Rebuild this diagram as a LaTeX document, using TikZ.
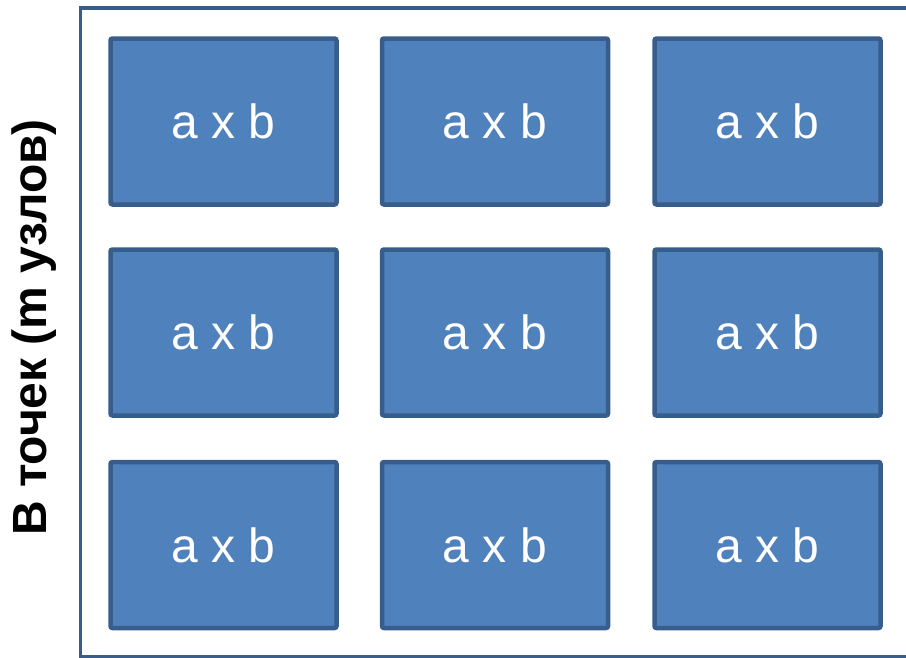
\documentclass[tikz,border=0pt]{standalone}
\usepackage{fontspec}
\setmainfont{Liberation Sans}
\definecolor{boxfill}{HTML}{4F81BD}
\definecolor{boxline}{HTML}{385D8A}
\begin{document}
\begin{tikzpicture}[x=1pt,y=-1pt,
  cell/.style={draw=boxline, fill=boxfill, line width=4.5pt, rounded corners=2pt,
    minimum width=226pt, minimum height=166pt, inner sep=0pt,
    text=white, font=\fontsize{48}{58}\selectfont},
  frame/.style={draw=boxline, line width=3.5pt},
  sidelabel/.style={rotate=90, anchor=base, inner sep=0pt, font=\fontsize{48}{58}\selectfont\bfseries}]
\useasboundingbox (0,0) rectangle (906,657);
\draw[frame] (80.5,8) rectangle (912,657);
\foreach \c/\x in {1/223.5,2/495,3/767.5}{
  \foreach \r/\y in {1/121.5,2/332.5,3/545}{
    \node[cell] (b\r\c) at (\x,\y) {a x b};
  }
}
\node[sidelabel] (lbl) at (46,327.5) {В точек (m узлов)};
\end{tikzpicture}
\end{document}
